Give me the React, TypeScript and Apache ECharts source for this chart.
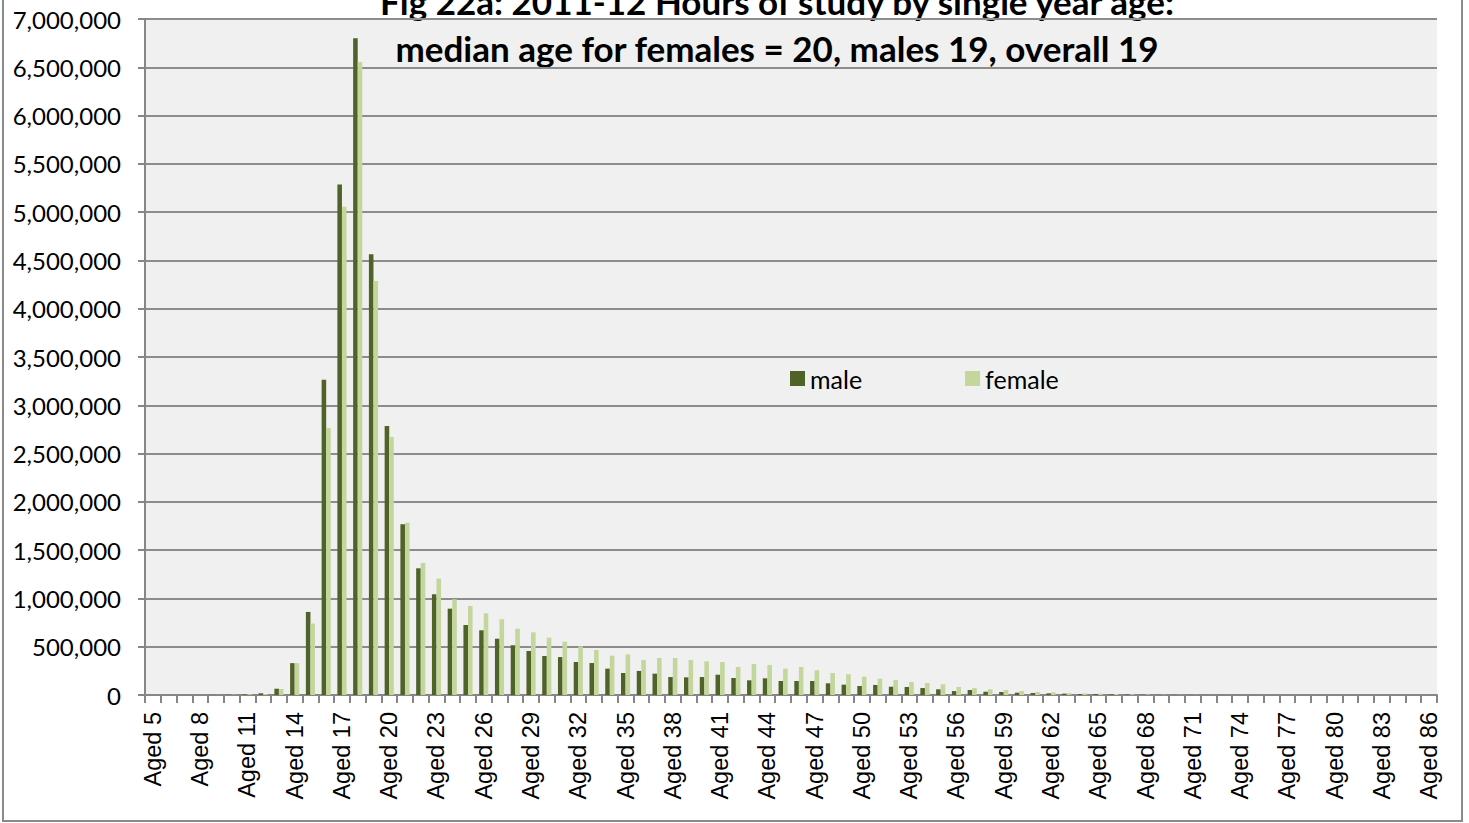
import React, { useEffect, useRef } from "react";
import * as echarts from "echarts";

const ages: string[] = [];
for (let a = 5; a <= 86; a++) ages.push("Aged " + a);

const male = [
  0, 0, 0, 0, 1000, 2000, 6000, 18000, 65000, 330000,
  860000, 3265000, 5285000, 6800000, 4565000, 2786000, 1768000, 1312000, 1043000, 894000,
  725000, 670000, 583000, 515000, 456000, 404000, 393000, 342000, 331000, 273000,
  228000, 249000, 221000, 186000, 183000, 186000, 210000, 176000, 152000, 173000,
  145000, 145000, 145000, 121000, 107000, 93000, 104000, 86000, 83000, 72000,
  59000, 41000, 52000, 34000, 31000, 24000, 21000, 17000, 14000, 10000,
  10000, 7000, 5000, 3000, 2000, 1500, 1000, 800, 600, 500,
  400, 300, 250, 200, 150, 100, 80, 60, 40, 30,
  20, 10,
];

const female = [
  0, 0, 0, 0, 1000, 3000, 9000, 10000, 62000, 330000,
  740000, 2765000, 5055000, 6555000, 4287000, 2672000, 1784000, 1367000, 1205000, 991000,
  922000, 846000, 784000, 687000, 649000, 594000, 552000, 504000, 466000, 407000,
  421000, 362000, 383000, 383000, 362000, 349000, 342000, 290000, 321000, 311000,
  273000, 290000, 256000, 228000, 214000, 190000, 169000, 155000, 135000, 124000,
  111000, 83000, 72000, 59000, 52000, 41000, 31000, 28000, 21000, 17000,
  14000, 10000, 7000, 5000, 3000, 2000, 1500, 1000, 800, 600,
  500, 400, 300, 200, 150, 100, 80, 60, 40, 30,
  20, 10,
];

const titleLine1 = "Fig 22a: 2011-12 Hours of study by single year age:";
const titleLine2 = "median age for females = 20, males 19, overall 19";

const yMax = 7000000;
const yStep = 500000;

export default function App() {
  const ref = useRef<HTMLDivElement>(null);
  useEffect(() => {
    if (!ref.current) return;
    const chart = echarts.init(ref.current, null, { renderer: "svg" });
    chart.setOption({
      animation: false,
      backgroundColor: "#ffffff",
      grid: {
        left: 145,
        right: 32,
        top: 19,
        bottom: 128,
        show: true,
        backgroundColor: "#F0F0F0",
        borderWidth: 0,
      },
      legend: {
        left: 785,
        top: 361,
        itemWidth: 15,
        itemHeight: 15,
        itemGap: 103,
        icon: "rect",
        textStyle: {
          fontFamily: "Lato",
          fontSize: 25,
          color: "#000",
        },
        data: ["male", "female"],
      },
      graphic: [
        {
          type: "rect",
          shape: { x: 3, y: -10, width: 1459, height: 831 },
          style: { fill: "none", stroke: "#8a8a8a", lineWidth: 2 },
          silent: true,
        },
        {
          type: "text",
          x: 777,
          y: 18,
          style: {
            text: titleLine1,
            fontFamily: "Lato",
            fontWeight: "bold",
            fontSize: 35,
            fill: "#000",
            textAlign: "center",
            textVerticalAlign: "bottom",
          },
        },
        {
          type: "text",
          x: 777,
          y: 65,
          style: {
            text: titleLine2,
            fontFamily: "Lato",
            fontWeight: "bold",
            fontSize: 35,
            fill: "#000",
            textAlign: "center",
            textVerticalAlign: "bottom",
          },
        },
      ],
      xAxis: {
        type: "category",
        data: ages,
        boundaryGap: true,
        axisLine: { show: true, lineStyle: { color: "#868686", width: 2 } },
        axisTick: {
          show: true,
          interval: 0,
          alignWithLabel: false,
          length: 8,
          lineStyle: { color: "#868686", width: 2 },
        },
        axisLabel: {
          interval: 2,
          rotate: 90,
          margin: 17,
          fontFamily: "Liberation Sans",
          fontSize: 23.5,
          color: "#000",
        },
        splitLine: { show: false },
      },
      yAxis: {
        type: "value",
        min: 0,
        max: yMax,
        interval: yStep,
        axisLine: { show: true, lineStyle: { color: "#868686", width: 2 } },
        axisTick: { show: true, length: 7, lineStyle: { color: "#868686", width: 2 } },
        axisLabel: {
          margin: 24,
          fontFamily: "Lato",
          fontSize: 24,
          color: "#000",
          formatter: (v: number) => v.toLocaleString("en-US"),
        },
        splitLine: { show: true, lineStyle: { color: "#8c8c8c", width: 2 } },
      },
      series: [
        {
          name: "male",
          type: "bar",
          data: male,
          barGap: "0%",
          barCategoryGap: "42%",
          itemStyle: { color: "#4F6228" },
        },
        {
          name: "female",
          type: "bar",
          data: female,
          itemStyle: { color: "#C3D69B" },
        },
      ],
    });
    return () => chart.dispose();
  }, []);
  return (
    <div
      ref={ref}
      style={{ position: "fixed", left: 0, top: 0, width: 1469, height: 823 }}
    />
  );
}
